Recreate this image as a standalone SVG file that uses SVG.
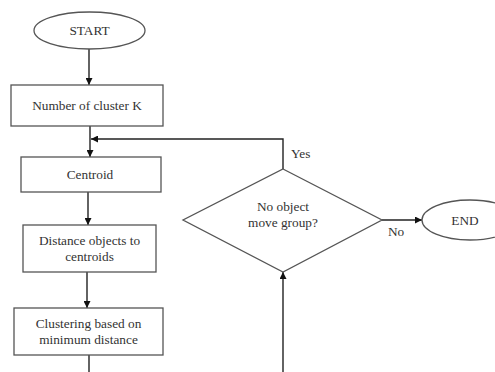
<svg xmlns="http://www.w3.org/2000/svg" width="495" height="372" viewBox="0 0 495 372">
<style>
.shape{fill:#fff;stroke:#555;stroke-width:1.3}
.line{fill:none;stroke:#222;stroke-width:1.4}
text{font-family:"Liberation Serif","Times New Roman",serif;font-size:13.3px;fill:#333;text-anchor:middle}
.lbl{text-anchor:start}
</style>
<defs>
<marker id="ah" viewBox="0 0 10 10" refX="10" refY="5" markerWidth="7" markerHeight="7" markerUnits="userSpaceOnUse" orient="auto">
<path d="M0,0 L10,5 L0,10 z" fill="#111"/>
</marker>
</defs>
<rect width="495" height="372" fill="#fff"/>
<g id="connectors">
<line class="line" x1="89" y1="49" x2="89" y2="85" marker-end="url(#ah)"/>
<line class="line" x1="90" y1="126" x2="90" y2="157" marker-end="url(#ah)"/>
<polyline class="line" points="283,169 283,139 91,139" marker-end="url(#ah)"/>
<line class="line" x1="88" y1="192" x2="88" y2="225" marker-end="url(#ah)"/>
<line class="line" x1="87" y1="272" x2="87" y2="308" marker-end="url(#ah)"/>
<line class="line" x1="89" y1="355" x2="89" y2="372"/>
<line class="line" x1="283" y1="372" x2="283" y2="272" marker-end="url(#ah)"/>
<line class="line" x1="382" y1="220" x2="422" y2="220" marker-end="url(#ah)"/>
<text class="lbl" x="291" y="158">Yes</text>
<text class="lbl" x="388" y="236">No</text>
</g>
<g id="start">
<ellipse class="shape" cx="89.5" cy="30.5" rx="55.5" ry="18.5"/>
<text x="89.5" y="35">START</text>
</g>
<g id="number">
<rect class="shape" x="11" y="85" width="152" height="41"/>
<text x="87" y="110">Number of cluster K</text>
</g>
<g id="centroid">
<rect class="shape" x="21" y="157" width="140" height="35"/>
<text x="90" y="179">Centroid</text>
</g>
<g id="distance">
<rect class="shape" x="23" y="225" width="133" height="47"/>
<text x="89.5" y="245">Distance objects to</text>
<text x="89.5" y="261">centroids</text>
</g>
<g id="clustering">
<rect class="shape" x="14" y="308" width="149" height="47"/>
<text x="88.5" y="328">Clustering based on</text>
<text x="88.5" y="344">minimum distance</text>
</g>
<g id="decision">
<polygon class="shape" points="283,169 382,220 283,272 183,220"/>
<text x="283" y="211">No object</text>
<text x="283" y="227">move group?</text>
</g>
<g id="end">
<ellipse class="shape" cx="470" cy="220" rx="48" ry="20"/>
<text x="465" y="225">END</text>
</g>
</svg>
